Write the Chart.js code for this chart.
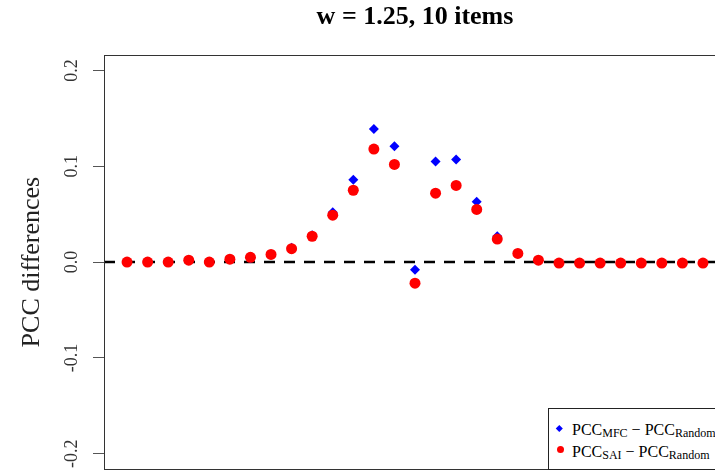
<!DOCTYPE html>
<html>
<head>
<meta charset="utf-8">
<title>PCC differences</title>
<script src="https://cdn.jsdelivr.net/npm/chart.js@4.4.1/dist/chart.umd.min.js"></script>
<style>
  html, body { margin: 0; padding: 0; background: #fff; overflow: hidden; }
  /* canvas is wider/taller than the window on purpose: the plot box runs off the right and bottom edge */
  #wrap { position: absolute; left: 0; top: 0; width: 830px; height: 490px; }
  #legend {
    position: absolute; left: 548px; top: 408px; width: 177px; height: 60px;
    border: 1px solid #222; background: #fff;
    font-family: 'Liberation Serif', 'Times New Roman', serif; color: #000;
  }
  #legend .row {
    position: absolute; left: 23px; font-size: 16px; line-height: 16px; white-space: nowrap;
  }
  #legend .sub { font-size: 12px; position: relative; top: 2px; }
  #legend .mark { position: absolute; }
  #legend .diamond { width: 4.6px; height: 4.6px; background: #0000ff; transform: rotate(45deg); }
  #legend .dot { width: 7px; height: 7px; border-radius: 50%; background: #ff0000; }
</style>
</head>
<body>
<div id="wrap"><canvas id="chart"></canvas></div>
<div id="legend">
  <div class="mark diamond" style="left:8.2px; top:17.2px"></div>
  <div class="row" style="top:13.3px">PCC<span class="sub">MFC</span> − PCC<span class="sub">Random</span></div>
  <div class="mark dot" style="left:7.5px; top:36.5px"></div>
  <div class="row" style="top:35.3px">PCC<span class="sub">SAI</span> − PCC<span class="sub">Random</span></div>
</div>
<script>
// --- Data ---
const itemIndex = [1, 2, 3, 4, 5, 6, 7, 8, 9, 10, 11, 12, 13, 14, 15, 16, 17, 18, 19, 20, 21, 22, 23, 24, 25, 26, 27, 28, 29];
// PCC_MFC - PCC_Random (blue diamonds)
const pccMfc = [0.000, 0.000, 0.000, 0.002, 0.000, 0.003, 0.004, 0.008, 0.015, 0.028, 0.052, 0.086, 0.139, 0.121, -0.008,
                0.105, 0.107, 0.063, 0.027, 0.009, 0.002, -0.001, -0.001, -0.001, -0.001, -0.001, -0.001, -0.001, -0.001];
// PCC_SAI - PCC_Random (red dots)
const pccSai = [0.000, 0.000, 0.000, 0.002, 0.000, 0.003, 0.005, 0.008, 0.014, 0.027, 0.049, 0.075, 0.118, 0.102, -0.022,
                0.072, 0.080, 0.055, 0.024, 0.009, 0.002, -0.001, -0.001, -0.001, -0.001, -0.001, -0.001, -0.001, -0.001];
const yTickValues = [-0.2, -0.1, 0, 0.1, 0.2];
const yTickLabels = ['-0.2', '-0.1', '0.0', '0.1', '0.2'];
const seriesLabels = ['PCC MFC - PCC Random', 'PCC SAI - PCC Random'];
const chartTitle = 'w = 1.25, 10 items';
const yAxisTitle = 'PCC differences';

const SERIF = "'Liberation Serif', 'Times New Roman', serif";

function toPoints(values) {
  return values.map((v, i) => ({ x: itemIndex[i], y: v }));
}

// dashed zero line + the box around the plot region
const refLinePlugin = {
  id: 'refLine',
  beforeDatasetsDraw(chart) {
    const { ctx, chartArea, scales } = chart;
    const y0 = Math.round(scales.y.getPixelForValue(0));
    ctx.save();
    ctx.strokeStyle = '#000';
    ctx.lineWidth = 2.5;
    ctx.setLineDash([11, 9]);
    ctx.beginPath();
    ctx.moveTo(chartArea.left, y0);
    ctx.lineTo(chartArea.right, y0);
    ctx.stroke();
    ctx.setLineDash([]);
    ctx.lineWidth = 1;
    ctx.strokeStyle = '#333';
    ctx.strokeRect(Math.round(chartArea.left) + 0.5, Math.round(chartArea.top) + 0.5,
                   Math.round(chartArea.width), Math.round(chartArea.height));
    ctx.restore();
  }
};

new Chart(document.getElementById('chart'), {
  type: 'scatter',
  data: {
    datasets: [
      {
        label: seriesLabels[0],
        data: toPoints(pccMfc),
        pointStyle: 'rectRot',
        pointRadius: 5,
        pointBackgroundColor: '#0000ff',
        pointBorderWidth: 0,
        order: 2
      },
      {
        label: seriesLabels[1],
        data: toPoints(pccSai),
        pointStyle: 'circle',
        pointRadius: 5.5,
        pointBackgroundColor: '#ff0000',
        pointBorderWidth: 0,
        order: 1
      }
    ]
  },
  options: {
    responsive: true,
    maintainAspectRatio: false,
    animation: false,
    layout: { padding: { left: 0, right: 104, top: 0, bottom: 21 } },
    plugins: {
      legend: { display: false },
      tooltip: { enabled: false },
      title: {
        display: true,
        fullSize: false, // centre over the plot region, like R's main title
        text: chartTitle,
        color: '#000',
        font: { family: SERIF, size: 26, weight: 'bold' },
        padding: { top: 2, bottom: 22 }
      }
    },
    scales: {
      x: { type: 'linear', min: -0.12, max: 30.12, display: false },
      y: {
        min: -0.216,
        max: 0.216,
        afterBuildTicks: scale => { scale.ticks = yTickValues.map(v => ({ value: v })); },
        afterFit: scale => { scale.width = 104; },
        ticks: {
          minRotation: 90,
          maxRotation: 90,
          crossAlign: 'center',
          padding: 6,
          color: '#333',
          font: { family: SERIF, size: 18 },
          callback: (value, index) => yTickLabels[index]
        },
        grid: { drawOnChartArea: false, tickLength: 11, color: '#555' },
        border: { display: false },
        title: {
          display: true,
          text: yAxisTitle,
          color: '#222',
          font: { family: SERIF, size: 26 },
          padding: { top: 17, bottom: 0 }
        }
      }
    }
  },
  plugins: [refLinePlugin]
});
</script>
</body>
</html>
